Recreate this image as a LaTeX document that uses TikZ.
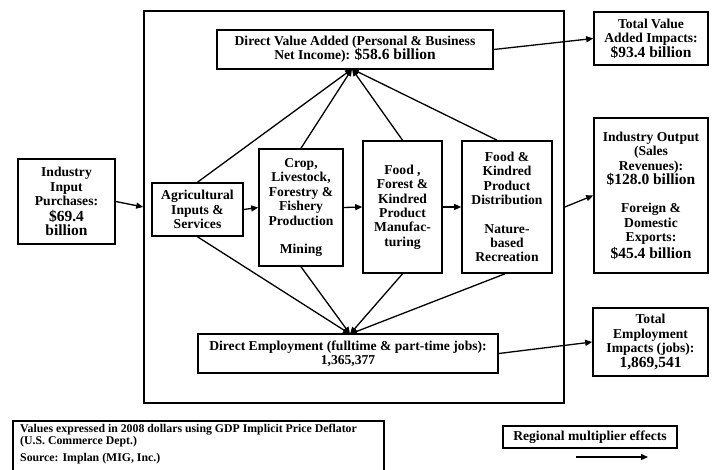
\documentclass[tikz,border=0pt]{standalone}
\usepackage{fontspec}
\setmainfont{Liberation Serif}
\usetikzlibrary{arrows.meta}
\newcommand{\bigv}[1]{{\fontsize{15.5}{16}\selectfont #1}}
\begin{document}
\begin{tikzpicture}[x=1pt,y=-1pt,
  box/.style={draw,line width=1.6pt,align=center,inner sep=0pt,font=\fontsize{13.6}{14.4}\selectfont\bfseries},
  conn/.style={line width=1.3pt,-{Triangle[length=7pt,width=6pt]}},
  plain/.style={line width=1.3pt}]
\useasboundingbox (0,0) rectangle (713,470);
% frame
\node[draw,line width=1.6pt,minimum width=420pt,minimum height=392pt,inner sep=0pt] (frame) at (354,207) {};
% boxes
\node[box,minimum width=276pt,minimum height=39pt] (dva) at (355,49.5) {Direct Value Added (Personal \& Business\\Net Income): \bigv{\$58.6 billion}};
\node[box,minimum width=114pt,minimum height=53pt] (tva) at (651,38.5) {Total Value\\Added Impacts:\\\bigv{\$93.4 billion}};
\node[box,minimum width=114pt,minimum height=155pt] (out) at (651,195.5) {Industry Output\\(Sales\\Revenues):\\\bigv{\$128.0 billion}\\[14pt]Foreign \&\\Domestic\\Exports:\\[2pt]\bigv{\$45.4 billion}};
\node[box,minimum width=115pt,minimum height=68pt] (tei) at (650.5,342) {Total\\Employment\\Impacts (jobs):\\\bigv{1,869,541}};
\node[box,minimum width=97pt,minimum height=85pt] (inp) at (66.5,201.5) {Industry\\Input\\Purchases:\\[1pt]\bigv{\$69.4}\\\bigv{billion}};
\node[box,minimum width=91pt,minimum height=53pt] (agri) at (197.5,209.5) {Agricultural\\Inputs \&\\Services};
\node[box,minimum width=84pt,minimum height=117pt] (crop) at (301,207.5) {Crop,\\Livestock,\\Forestry \&\\Fishery\\Production\\[14pt]Mining};
\node[box,minimum width=79pt,minimum height=132pt] (food) at (402.5,207) {Food ,\\Forest \&\\Kindred\\Product\\Manufac-\\turing};
\node[box,minimum width=90pt,minimum height=132pt] (dist) at (507,207) {Food \&\\Kindred\\Product\\Distribution\\[14pt]Nature-\\based\\Recreation};
\node[box,minimum width=300pt,minimum height=39pt] (de) at (348,353.5) {Direct Employment (fulltime \& part-time jobs):\\1,365,377};
\node[box,minimum width=174pt,minimum height=22pt] (reg) at (590,437) {Regional multiplier effects};
% convergence points
\coordinate (dvaIn) at (352,69);
\coordinate (deIn) at (350,334);
% connectors into DVA
\draw[conn] (agri.north) -- (dvaIn);
\draw[conn] (crop.north) -- (dvaIn);
\draw[conn] (food.north) -- (dvaIn);
\draw[conn] ([xshift=-10pt]dist.north) -- (dvaIn);
% connectors into DE
\draw[conn] (agri.south) -- (deIn);
\draw[conn] (crop.south) -- (deIn);
\draw[conn] (food.south) -- (deIn);
\draw[conn] ([xshift=-2pt]dist.south) -- (deIn);
% chain
\draw[conn] (inp.east) -- (frame.west);
\draw[conn] (agri.east) -- (crop.west);
\draw[conn] (crop.east) -- (food.west);
\draw[conn] (food.east) -- (dist.west);
\draw[conn] (frame.east) -- (out.west);
\draw[conn] (dva.east) -- (tva.west);
\draw[conn] (de.east) -- (tei.west);
% legend arrow
\coordinate (la) at (576,457);
\coordinate (lb) at (648,457);
\draw[conn] (la) -- (lb);
% footnote
\draw[line width=1.6pt] (13,472) -- (13,421) -- (384,421) -- (384,472);
\node[anchor=north west,align=left,inner sep=0pt,font=\fontsize{11.8}{12}\selectfont\bfseries] (note) at (20,424) {Values expressed in 2008 dollars using GDP Implicit Price Deflator\\(U.S. Commerce Dept.)\\[5pt]Source: Implan (MIG, Inc.)};
\end{tikzpicture}
\end{document}
